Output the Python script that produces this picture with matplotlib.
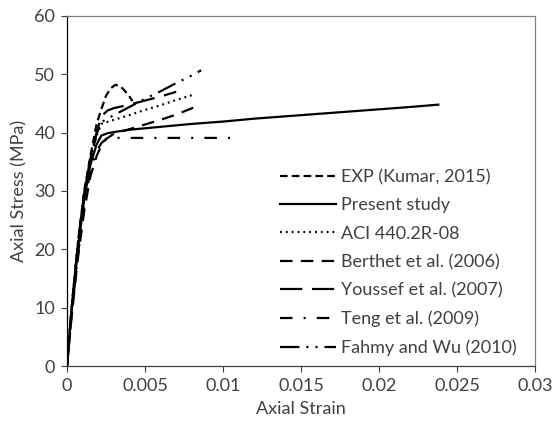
import matplotlib
matplotlib.use("Agg")
import matplotlib.pyplot as plt

plt.rcParams['font.family'] = ['Lato', 'DejaVu Sans']
plt.rcParams['lines.scale_dashes'] = False

# Data
exp_x = [0, 0.0003, 0.0007, 0.0011, 0.0015, 0.0019, 0.0022, 0.0025, 0.0028, 0.0031, 0.0034, 0.0037, 0.0040, 0.0042]
exp_y = [0, 10, 21, 30, 36, 41.5, 44, 46.3, 47.6, 48.2, 48.0, 47.2, 46.2, 45.4]

present_x = [0, 0.0003, 0.0007, 0.0011, 0.0015, 0.0019, 0.0022, 0.0026, 0.003, 0.004, 0.006, 0.008, 0.010, 0.012, 0.014, 0.016, 0.018, 0.020, 0.022, 0.0238]
present_y = [0, 9.5, 20, 28.5, 34.5, 38, 39.5, 39.9, 40.1, 40.5, 41.0, 41.5, 41.9, 42.4, 42.8, 43.2, 43.6, 44.0, 44.4, 44.8]

aci_x = [0, 0.0003, 0.0007, 0.0011, 0.0015, 0.0019, 0.0022, 0.003, 0.004, 0.005, 0.006, 0.007, 0.0081]
aci_y = [0, 10, 21, 29.5, 35.5, 39.5, 41.5, 42.2, 43.0, 43.9, 44.7, 45.6, 46.5]

berthet_x = [0, 0.0003, 0.0007, 0.0011, 0.0015, 0.0019, 0.0022, 0.0025, 0.003, 0.004, 0.005, 0.006, 0.007, 0.0083]
berthet_y = [0, 8.5, 18.5, 26.5, 32.5, 36, 37.8, 38.9, 39.8, 40.6, 41.4, 42.2, 43.1, 44.5]

youssef_x = [0, 0.0003, 0.0007, 0.0011, 0.0015, 0.0019, 0.0022, 0.0026, 0.003, 0.004, 0.005, 0.006, 0.007]
youssef_y = [0, 10, 21, 29.5, 35.5, 40, 42.8, 43.8, 44.2, 44.8, 45.5, 46.2, 47.0]

teng_x = [0, 0.0003, 0.0007, 0.0011, 0.0015, 0.0019, 0.0022, 0.0025, 0.003, 0.004, 0.006, 0.008, 0.0105]
teng_y = [0, 9, 19, 27.5, 33.5, 36.8, 38.2, 38.9, 39.1, 39.1, 39.1, 39.1, 39.1]

fahmy_x = [0, 0.0003, 0.0007, 0.0011, 0.0015, 0.0019, 0.0022, 0.003, 0.004, 0.005, 0.006, 0.007, 0.008, 0.0086]
fahmy_y = [0, 10, 21, 29.5, 35.5, 39.8, 41.8, 43.0, 44.4, 45.8, 47.1, 48.5, 49.8, 50.7]

labels = ["EXP (Kumar, 2015)", "Present study", "ACI 440.2R-08", "Berthet et al. (2006)",
          "Youssef et al. (2007)", "Teng et al. (2009)", "Fahmy and Wu (2010)"]

x_ticks = [0, 0.005, 0.01, 0.015, 0.02, 0.025, 0.03]
x_tick_labels = ["0", "0.005", "0.01", "0.015", "0.02", "0.025", "0.03"]
y_ticks = [0, 10, 20, 30, 40, 50, 60]

fig = plt.figure(figsize=(5.55, 4.25), dpi=100)
ax = fig.add_axes([0.1207, 0.1388, 0.8433, 0.8236])

lw = 1.6
series = [
    (exp_x, exp_y, (0, (5.5, 3))),
    (present_x, present_y, '-'),
    (aci_x, aci_y, (0, (1.3, 2.9))),
    (berthet_x, berthet_y, (0, (9, 6))),
    (youssef_x, youssef_y, (0, (16, 7))),
    (teng_x, teng_y, (0, (9, 8, 1.5, 8))),
    (fahmy_x, fahmy_y, (0, (14, 5, 1.5, 5, 1.5, 5))),
]
for (xs, ys, ls), lab in zip(series, labels):
    ax.plot(xs, ys, color='black', linestyle=ls, linewidth=lw, label=lab)

fs = 13
ax.set_xlim(0, 0.03)
ax.set_ylim(0, 60)
ax.set_xticks(x_ticks)
ax.set_xticklabels(x_tick_labels)
ax.set_yticks(y_ticks)
ax.tick_params(direction='out', length=4.5, width=0.8, colors='#404040', labelsize=fs, pad=4)
for lab in ax.get_xticklabels() + ax.get_yticklabels():
    lab.set_color('#404040')
ax.spines['left'].set_color('black')
ax.spines['bottom'].set_color('#404040')
ax.spines['top'].set_color('#808080')
ax.spines['right'].set_color('#808080')
for s in ax.spines.values():
    s.set_linewidth(0.9)

ax.set_xlabel("Axial Strain", fontsize=fs, color='#404040', labelpad=5)
ax.set_ylabel("Axial Stress (MPa)", fontsize=fs, color='#404040', labelpad=5)

leg = ax.legend(loc='lower left', bbox_to_anchor=(0.455, 0.028), frameon=False,
                fontsize=fs, handlelength=3.1, handletextpad=0.3, labelspacing=0.68,
                borderaxespad=0, borderpad=0)
for t in leg.get_texts():
    t.set_color('#404040')

fig.savefig("out.png", dpi=100)
